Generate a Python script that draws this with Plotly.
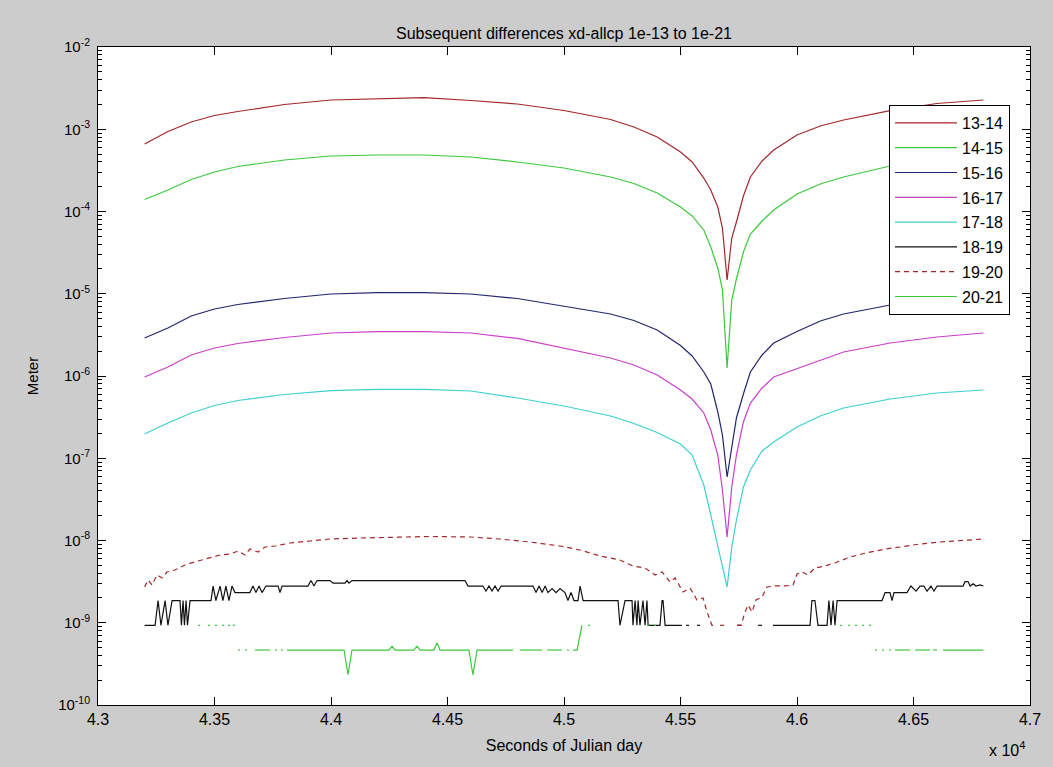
import plotly.graph_objects as go

# ---------------- data ----------------
# time samples for the smooth difference curves (seconds of Julian day)
t_smooth = [43200, 43300, 43400, 43500, 43600, 43800, 44000, 44200, 44400, 44600,
            44800, 45000, 45200, 45300, 45400, 45500, 45550, 45600, 45630, 45660,
            45680, 45700, 45720, 45740, 45770, 45800, 45850, 45900, 46000, 46100,
            46200, 46400, 46600, 46800]

d13_14 = [6.62e-4, 9.39e-4, 1.225e-3, 1.47e-3, 1.643e-3, 2.0e-3, 2.268e-3, 2.365e-3, 2.418e-3, 2.236e-3,
          2.028e-3, 1.69e-3, 1.314e-3, 1.065e-3, 8.05e-4, 5.29e-4, 4.0e-4, 2.55e-4, 1.826e-4, 1.134e-4,
          6.3e-5, 1.47e-5, 4.76e-5, 7.45e-5, 1.543e-4, 2.63e-4, 4.11e-4, 5.59e-4, 8.51e-4, 1.095e-3,
          1.296e-3, 1.681e-3, 2.056e-3, 2.268e-3]

d14_15 = [1.398e-4, 1.826e-4, 2.449e-4, 3.02e-4, 3.524e-4, 4.23e-4, 4.73e-4, 4.86e-4, 4.86e-4, 4.6e-4,
          4.0e-4, 3.38e-4, 2.63e-4, 2.19e-4, 1.679e-4, 1.134e-4, 8.82e-5, 5.96e-5, 3.70e-5, 2.056e-5,
          1.111e-5, 1.252e-6, 8.39e-6, 1.511e-5, 3.22e-5, 5.33e-5, 7.66e-5, 1.042e-4, 1.632e-4, 2.16e-4,
          2.63e-4, 3.57e-4, 4.11e-4, 4.6e-4]

d15_16 = [2.897e-6, 3.834e-6, 5.36e-6, 6.52e-6, 7.40e-6, 8.75e-6, 9.93e-6, 1.030e-5, 1.030e-5, 9.93e-6,
          8.75e-6, 7.10e-6, 5.67e-6, 4.73e-6, 3.625e-6, 2.348e-6, 1.750e-6, 1.118e-6, 7.99e-7, 3.65e-7,
          1.917e-7, 5.92e-8, 1.449e-7, 3.086e-7, 6.04e-7, 1.118e-6, 1.80e-6, 2.52e-6, 3.475e-6, 4.66e-6,
          5.67e-6, 7.30e-6, 8.39e-6, 9.13e-6]

d16_17 = [9.72e-7, 1.287e-6, 1.80e-6, 2.19e-6, 2.484e-6, 2.937e-6, 3.333e-6, 3.456e-6, 3.456e-6, 3.333e-6,
          2.86e-6, 2.19e-6, 1.655e-6, 1.36e-6, 1.028e-6, 6.76e-7, 5.25e-7, 3.55e-7, 2.205e-7, 1.095e-7,
          4.11e-8, 1.103e-8, 4.47e-8, 1.095e-7, 2.76e-7, 4.69e-7, 7.15e-7, 9.72e-7, 1.234e-6, 1.565e-6,
          1.957e-6, 2.52e-6, 2.98e-6, 3.333e-6]

d17_18 = [1.971e-7, 2.683e-7, 3.55e-7, 4.38e-7, 5.04e-7, 5.96e-7, 6.63e-7, 6.89e-7, 6.89e-7, 6.57e-7,
          5.40e-7, 4.32e-7, 3.265e-7, 2.645e-7, 2.056e-7, 1.49e-7, 1.095e-7, 4.73e-8, 2.04e-8, 8.82e-9,
          4.90e-9, 2.72e-9, 8.3e-9, 1.775e-8, 4.47e-8, 7.19e-8, 1.224e-7, 1.576e-7, 2.40e-7, 3.265e-7,
          4.08e-7, 5.25e-7, 6.21e-7, 6.76e-7]

# 18-19: quantised, noisy (None = zero difference, not drawable on log axis)
t18_19 = [43200, 43245, 43258, 43270, 43288, 43300, 43318, 43352, 43358, 43365, 43371, 43378, 43384, 43395,
          43485, 43494, 43506, 43524, 43536, 43549, 43562, 43575, 43588, 43652, 43665, 43678, 43691, 43704,
          43721, 43773, 43781, 43790, 43901, 43914, 43927, 43940, 43996, 44009, 44060, 44069, 44077, 44090,
          44575, 44588, 44652, 44665, 44678, 44691, 44704, 44717, 44730, 44867, 44880, 44893, 44906, 44919,
          44931, 44949, 44966, 44983, 45004, 45017, 45030, 45043, 45060, 45069, 45082, 45232, 45240, 45262,
          45292, 45296, 45305, 45313, 45318, 45326, 45339, 45348, 45356, 45361, 45412, 45421, 45425, 45434,
          45506, None, 45524, 45537, None, 45571, 45584, None, 45743, 45760, None, 45833, 45850, None,
          45897, 46056, 46064, 46077, 46090, 46129, 46137, 46146, 46155, 46163, 46172, 46365, 46378, 46399,
          46408, 46416, 46472, 46489, 46511, 46528, 46545, 46558, 46575, 46588, 46601, 46713, 46721, 46734,
          46743, 46756, 46768, 46786, 46800]
d18_19 = [9.31e-10, 9.31e-10, 1.862e-9, 9.31e-10, 1.862e-9, 9.31e-10, 1.862e-9, 1.862e-9, 9.31e-10, 1.862e-9,
          9.31e-10, 1.862e-9, 9.31e-10, 1.862e-9,
          1.862e-9, 2.794e-9, 1.862e-9, 2.794e-9, 1.862e-9, 2.794e-9, 1.862e-9, 2.794e-9, 2.328e-9, 2.328e-9,
          2.794e-9, 2.328e-9, 2.794e-9, 2.328e-9,
          2.794e-9, 2.794e-9, 2.328e-9, 2.794e-9, 2.794e-9, 3.259e-9, 2.794e-9, 3.259e-9, 3.259e-9, 3.026e-9,
          3.026e-9, 3.259e-9, 3.026e-9, 3.259e-9,
          3.259e-9, 2.794e-9, 2.794e-9, 2.42e-9, 2.794e-9, 2.42e-9, 2.794e-9, 2.42e-9, 2.794e-9, 2.794e-9,
          2.328e-9, 2.794e-9, 2.328e-9, 2.794e-9,
          2.328e-9, 2.607e-9, 2.328e-9, 2.607e-9, 2.328e-9, 1.862e-9, 2.328e-9, 1.862e-9, 1.862e-9, 2.794e-9,
          1.862e-9, 1.862e-9, 9.31e-10, 1.862e-9,
          1.862e-9, 9.31e-10, 1.862e-9, 9.31e-10, 1.862e-9, 9.31e-10, 1.862e-9, 9.31e-10, 1.862e-9, 9.31e-10,
          9.31e-10, 1.862e-9, 1.862e-9, 9.31e-10,
          9.31e-10, None, 9.31e-10, 9.31e-10, None, 9.31e-10, 9.31e-10, None, 9.31e-10, 9.31e-10, None,
          9.31e-10, 9.31e-10, None,
          9.31e-10, 9.31e-10, 1.862e-9, 1.862e-9, 9.31e-10, 9.31e-10, 1.862e-9, 9.31e-10, 1.862e-9, 9.31e-10,
          1.862e-9, 1.862e-9, 2.328e-9, 2.328e-9,
          1.862e-9, 2.328e-9, 2.328e-9, 2.794e-9, 2.42e-9, 2.794e-9, 2.794e-9, 2.42e-9, 2.794e-9, 2.42e-9,
          2.794e-9, 2.794e-9, 3.165e-9, 3.165e-9,
          2.794e-9, 2.98e-9, 2.794e-9, 2.886e-9, 2.794e-9]

# 19-20: dashed, noisy
t19_20 = [43200, 43215, 43232, 43253, 43275, 43296, 43330, 43373, 43429, 43481, 43524, 43567, 43601, 43631,
          43652, 43687, 43717, 43760, 43824, 43910, 43996, 44125, 44296, 44425, 44597, 44725, 44854, 44983,
          45069, 45155, 45240, 45296, 45348, 45391, 45421, 45455, 45477, 45511, 45541, 45571, 45597, 45614,
          45635, 45648, None, 45670, 45687, None, 45743, 45760, 45777, 45790, 45807, 45824, 45850, 45871,
          45906, 45949, 45983, 46000, 46022, 46047, 46077, 46120, 46163, 46228, 46296, 46378, 46442, 46528,
          46614, 46700, 46800]
d19_20 = [2.72e-9, 3.31e-9, 2.88e-9, 3.81e-9, 3.50e-9, 4.14e-9, 4.38e-9, 5.04e-9, 5.63e-9, 6.13e-9, 6.66e-9,
          6.85e-9, 7.45e-9, 6.66e-9,
          7.88e-9, 7.25e-9, 8.34e-9, 8.57e-9, 9.32e-9, 9.86e-9, 1.043e-8, 1.072e-8, 1.103e-8, 1.12e-8, 1.103e-8,
          1.043e-8, 9.59e-9, 8.57e-9,
          7.66e-9, 6.48e-9, 5.79e-9, 4.90e-9, 4.63e-9, 3.81e-9, 4.14e-9, 3.13e-9, 3.50e-9, 2.365e-9, 2.645e-9,
          1.89e-9, 2.0e-9, 1.351e-9,
          9.31e-10, 9.31e-10, None, 9.31e-10, 9.31e-10, None, 9.31e-10, 9.31e-10, 1.351e-9, 1.643e-9, 1.351e-9,
          1.89e-9, 2.056e-9, 2.72e-9,
          2.80e-9, 2.80e-9, 2.88e-9, 3.91e-9, 4.14e-9, 3.81e-9, 4.63e-9, 4.90e-9, 5.33e-9, 6.30e-9, 7.05e-9,
          7.88e-9, 8.34e-9, 9.07e-9,
          9.59e-9, 1.0e-8, 1.043e-8]

# 20-21: quantised, mostly zero
t20_21 = [43429, 43438, None, 43472, 43481, None, 43502, 43511, None, 43532, 43541, None, 43558, 43567, None,
          43579, 43588, None, 43601, 43609, None, 43631, 43640, None, 43674, 43738, None, 43760, 43768, None,
          43785, 43794, None, 43811, 44056, 44073, 44090, 44249, 44262, 44275, 44356, 44369, 44382, 44442,
          44455, 44468, 44592, 44609, 44627, 44781, None, 44811, 44906, None, 44927, 44991, None, 45013, 45021,
          None, 45039, 45056, 45077, None, 45103, 45112, None, 45356, 45365, None, 45386, 45395, None,
          46185, 46193, None, 46219, 46228, None, 46249, 46258, None, 46279, 46288, None, 46309, 46318, None,
          46335, 46343, None, 46365, 46373, None, 46395, 46404, None, 46421, 46485, None, 46507, 46571, None,
          46584, 46601, None, 46627, 46800]
d20_21 = [9.31e-10, 9.31e-10, None, 9.31e-10, 9.31e-10, None, 9.31e-10, 9.31e-10, None, 9.31e-10, 9.31e-10,
          None, 9.31e-10, 9.31e-10, None,
          9.31e-10, 9.31e-10, None, 4.66e-10, 4.66e-10, None, 4.66e-10, 4.66e-10, None, 4.66e-10, 4.66e-10,
          None, 4.66e-10, 4.66e-10, None,
          4.66e-10, 4.66e-10, None, 4.66e-10, 4.66e-10, 2.33e-10, 4.66e-10, 4.66e-10, 5.2e-10, 4.66e-10,
          4.66e-10, 5.2e-10, 4.66e-10, 4.66e-10,
          5.7e-10, 4.66e-10, 4.66e-10, 2.33e-10, 4.66e-10, 4.66e-10, None, 4.66e-10, 4.66e-10, None, 4.66e-10,
          4.66e-10, None, 4.66e-10, 4.66e-10,
          None, 4.66e-10, 4.66e-10, 9.31e-10, None, 9.31e-10, 9.31e-10, None, 9.31e-10, 9.31e-10, None,
          9.31e-10, 9.31e-10, None,
          9.31e-10, 9.31e-10, None, 9.31e-10, 9.31e-10, None, 9.31e-10, 9.31e-10, None, 9.31e-10, 9.31e-10,
          None, 9.31e-10, 9.31e-10, None,
          4.66e-10, 4.66e-10, None, 4.66e-10, 4.66e-10, None, 4.66e-10, 4.66e-10, None, 4.66e-10, 4.66e-10,
          None, 4.66e-10, 4.66e-10, None,
          4.66e-10, 4.66e-10, None, 4.66e-10, 4.66e-10]

series_names = ["13-14", "14-15", "15-16", "16-17", "17-18", "18-19", "19-20", "20-21"]
series_x = [t_smooth, t_smooth, t_smooth, t_smooth, t_smooth, t18_19, t19_20, t20_21]
series_y = [d13_14, d14_15, d15_16, d16_17, d17_18, d18_19, d19_20, d20_21]

x_tick_vals = [43000, 43500, 44000, 44500, 45000, 45500, 46000, 46500, 47000]
x_tick_text = ["4.3", "4.35", "4.4", "4.45", "4.5", "4.55", "4.6", "4.65", "4.7"]
y_tick_vals = [1e-10, 1e-9, 1e-8, 1e-7, 1e-6, 1e-5, 1e-4, 1e-3, 1e-2]
y_tick_text = ["10<sup>-10</sup>", "10<sup>-9</sup>", "10<sup>-8</sup>", "10<sup>-7</sup>", "10<sup>-6</sup>",
               "10<sup>-5</sup>", "10<sup>-4</sup>", "10<sup>-3</sup>", "10<sup>-2</sup>"]

# ---------------- styling ----------------
colors = ["#a3262a", "#3cc83c", "#23246e", "#c93fc9", "#3fcfcf", "#111111", "#a3262a", "#3cc83c"]
dashes = ["solid", "solid", "solid", "solid", "solid", "solid", "5px,4px", "solid"]
FONT = "Liberation Sans, Arial, Helvetica, sans-serif"

fig = go.Figure()
for i, name in enumerate(series_names):
    fig.add_trace(go.Scatter(
        x=series_x[i], y=series_y[i], mode="lines", name=name,
        legendgroup=name, connectgaps=False,
        line=dict(color=colors[i], width=1.2, dash=dashes[i]),
    ))

fig.update_layout(
    width=1053, height=767,
    margin=dict(l=98, r=23, t=47, b=62),
    paper_bgcolor="#cccccc", plot_bgcolor="white",
    font=dict(family=FONT, size=15, color="black"),
    title=dict(text="Subsequent differences xd-allcp 1e-13 to 1e-21",
               x=0.5, xref="paper", xanchor="center",
               y=1 - 33 / 767, yref="container", yanchor="middle",
               font=dict(family=FONT, size=16, color="black")),
    showlegend=True,
    legend=dict(x=(889 - 98) / 932, y=1 - (105 - 47) / 658, xanchor="left", yanchor="top",
                bgcolor="white", bordercolor="black", borderwidth=1,
                font=dict(family=FONT, size=16, color="black"),
                tracegroupgap=1, itemwidth=62),
)

fig.update_xaxes(
    range=[43000, 47000], tickmode="array", tickvals=x_tick_vals, ticktext=x_tick_text,
    ticks="inside", ticklen=8, tickcolor="black", showline=True, linecolor="black", linewidth=1,
    mirror="allticks", showgrid=False, zeroline=False,
    tickfont=dict(family=FONT, size=16, color="black"),
    title=dict(text="Seconds of Julian day", standoff=12, font=dict(family=FONT, size=16)),
)
fig.update_yaxes(
    type="log", range=[-10, -2], tickmode="array", tickvals=y_tick_vals, ticktext=y_tick_text,
    ticks="inside", ticklen=8, tickcolor="black", showline=True, linecolor="black", linewidth=1,
    mirror="allticks", showgrid=False, zeroline=False, ticklabelstandoff=4,
    tickfont=dict(family=FONT, size=15, color="black"),
    minor=dict(dtick="D1", ticks="inside", ticklen=4, tickcolor="black", showgrid=False),
    title=dict(text="Meter", standoff=15, font=dict(family=FONT, size=15)),
)

fig.add_annotation(text="x 10<sup>4</sup>", xref="paper", yref="paper",
                   x=(1007 - 98) / 932, y=(705 - 749) / 658, xanchor="center", yanchor="middle",
                   showarrow=False, font=dict(family=FONT, size=16, color="black"))

fig.write_html("out.html", config={"displayModeBar": False},
               post_script="document.body.style.margin='0';document.body.style.padding='0';"
                           "document.body.style.overflow='hidden';")
